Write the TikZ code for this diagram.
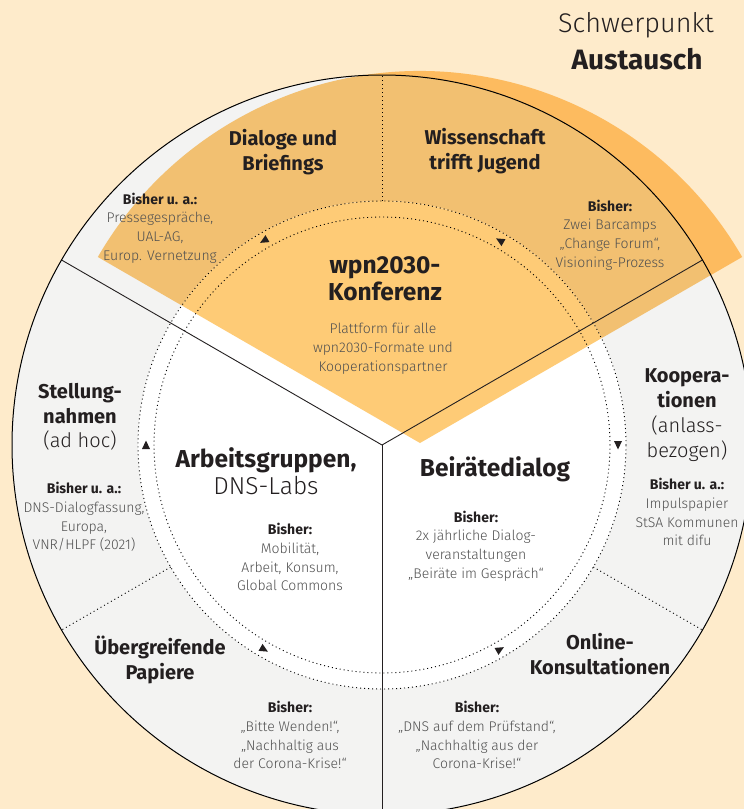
\documentclass[tikz,border=0pt]{standalone}
\definecolor{bgcream}{RGB}{254,235,203}
\definecolor{ringgrey}{RGB}{243,243,242}
\definecolor{orangeout}{RGB}{253,187,95}
\definecolor{orangering}{RGB}{242,192,113}
\definecolor{orangein}{RGB}{254,203,118}
\definecolor{darktext}{RGB}{35,31,32}
\definecolor{greytext}{RGB}{80,80,80}
\usepackage{fontspec}
\setmainfont{Fira Sans}
\IfFontExistsTF{Fira Sans Light}{\newfontfamily\leicht{Fira Sans Light}}{\newcommand{\leicht}{}}
\newcommand{\kopf}[1]{{\normalfont\bfseries\color{darktext}#1}}
\usepackage{tikz}

\begin{document}
\begin{tikzpicture}[x=1pt, y=1pt,
    titel/.style={align=center, text=darktext, inner sep=0pt, font=\bfseries\fontsize{20}{25.5}\selectfont},
    gross/.style={align=center, text=darktext, inner sep=0pt, font=\bfseries\fontsize{24.5}{27}\selectfont},
    bisher/.style={align=center, text=greytext, inner sep=0pt, font=\leicht\fontsize{14}{18.8}\selectfont},
    punkte/.style={black, line width=0.9pt, dash pattern=on 1pt off 3pt},
    trenner/.style={darktext, line width=0.9pt}]
    % Hintergrund
    \clip (0,0) rectangle (744,-809);
    \fill[bgcream] (0,0) rectangle (744,-809);
    \coordinate (mitte) at (382,-445);
    \coordinate (fmitte) at (420,-443);

    % Orangefarbener Faecher
    \fill[orangeout] (fmitte) -- ++(30:372) arc[start angle=30, end angle=150, radius=372] -- cycle;
    \fill[ringgrey] (mitte) circle (370);
    \begin{scope}
        \clip (mitte) circle (370);
        \fill[orangering] (fmitte) -- ++(30:372) arc[start angle=30, end angle=150, radius=372] -- cycle;
    \end{scope}
    \fill[white] (mitte) circle (244);
    \begin{scope}
        \clip (mitte) circle (244);
        \fill[orangein] (fmitte) -- ++(30:372) arc[start angle=30, end angle=150, radius=372] -- cycle;
    \end{scope}

    % Kreise und Trennlinien
    \foreach \w in {30,90,150,210,270,330} {
        \coordinate (rand\w) at ([shift={(\w:370)}]mitte);
        \coordinate (punkt\w) at ([shift={(\w:244)}]mitte);
    }
    \draw[punkte] (mitte) circle (244);
    \draw[punkte] (mitte) circle (228);
    \draw[punkte] (punkt90) -- (rand90);
    \draw[punkte] (punkt210) -- (rand210);
    \draw[punkte] (punkt330) -- (rand330);
    \draw[trenner] (mitte) -- (rand30);
    \draw[trenner] (mitte) -- (rand150);
    \draw[trenner] (mitte) -- (rand270);
    \draw[black, line width=1pt] (mitte) circle (370);

    % Pfeile auf dem Ring
    \foreach \w/\d in {0/-1, 60/1, 120/1, 180/-1, 240/1, 300/1}
        \fill[darktext, shift={(mitte)}, rotate=\w] (236,{4.5*\d}) -- (240,{-4*\d}) -- (232,{-4*\d}) -- cycle;

    % Schwerpunkt
    \node[text=darktext, inner sep=0pt, font=\leicht\fontsize{27}{30}\selectfont] (schwer) at (636,-25) {Schwerpunkt};
    \node[text=darktext, inner sep=0pt, font=\bfseries\fontsize{28}{30}\selectfont] (austausch) at (637,-59) {Austausch};

    % Oberes Segment
    \node[titel] (dialoge) at (283,-152) {Dialoge und\\Briefings};
    \node[bisher] (dialogeB) at (160,-228) {\kopf{Bisher u. a.:}\\Pressegespräche,\\UAL-AG,\\Europ. Vernetzung};
    \node[titel] (wissen) at (485,-151) {Wissenschaft\\trifft Jugend};
    \node[bisher] (wissenB) at (610,-235) {\kopf{Bisher:}\\Zwei Barcamps\\„Change Forum“,\\Visioning-Prozess};
    \node[gross] (konferenz) at (385,-279) {wpn2030-\\Konferenz};
    \node[bisher] (konferenzB) at (383,-349) {Plattform für alle\\wpn2030-Formate und\\Kooperationspartner};

    % Linkes Segment
    \node[titel, font=\bfseries\fontsize{20}{24.5}\selectfont] (stellung) at (80,-417) {Stellung-\\nahmen\\{\leicht\mdseries\fontsize{20}{24.5}\selectfont(ad hoc)}};
    \node[bisher] (stellungB) at (84,-517) {\kopf{Bisher u. a.:}\\DNS-Dialogfassung,\\Europa,\\VNR/HLPF (2021)};
    \node[gross] (arbeit) at (266,-471) {Arbeitsgruppen,\\{\leicht\mdseries DNS-Labs}};
    \node[bisher] (arbeitB) at (290,-557) {\kopf{Bisher:}\\Mobilität,\\Arbeit, Konsum,\\Global Commons};
    \node[titel] (papiere) at (160,-660) {Übergreifende\\Papiere};
    \node[bisher] (papiereB) at (290,-735) {\kopf{Bisher:}\\„Bitte Wenden!“,\\„Nachhaltig aus\\der Corona-Krise!“};

    % Rechtes Segment
    \node[titel, font=\bfseries\fontsize{20}{25}\selectfont] (koop) at (687,-415) {Koopera-\\tionen\\{\leicht\mdseries\fontsize{20}{25}\selectfont(anlass-}\\{\leicht\mdseries\fontsize{20}{25}\selectfont bezogen)}};
    \node[bisher] (koopB) at (687,-512) {\kopf{Bisher u. a.:}\\Impulspapier\\StSA Kommunen\\mit difu};
    \node[gross] (beirat) at (495,-469) {Beirätedialog};
    \node[bisher] (beiratB) at (476,-546) {\kopf{Bisher:}\\2x jährliche Dialog-\\veranstaltungen\\„Beiräte im Gespräch“};
    \node[titel] (online) at (600,-654) {Online-\\Konsultationen};
    \node[bisher] (onlineB) at (477,-735) {\kopf{Bisher:}\\„DNS auf dem Prüfstand“,\\„Nachhaltig aus der\\Corona-Krise!“};
\end{tikzpicture}
\end{document}
